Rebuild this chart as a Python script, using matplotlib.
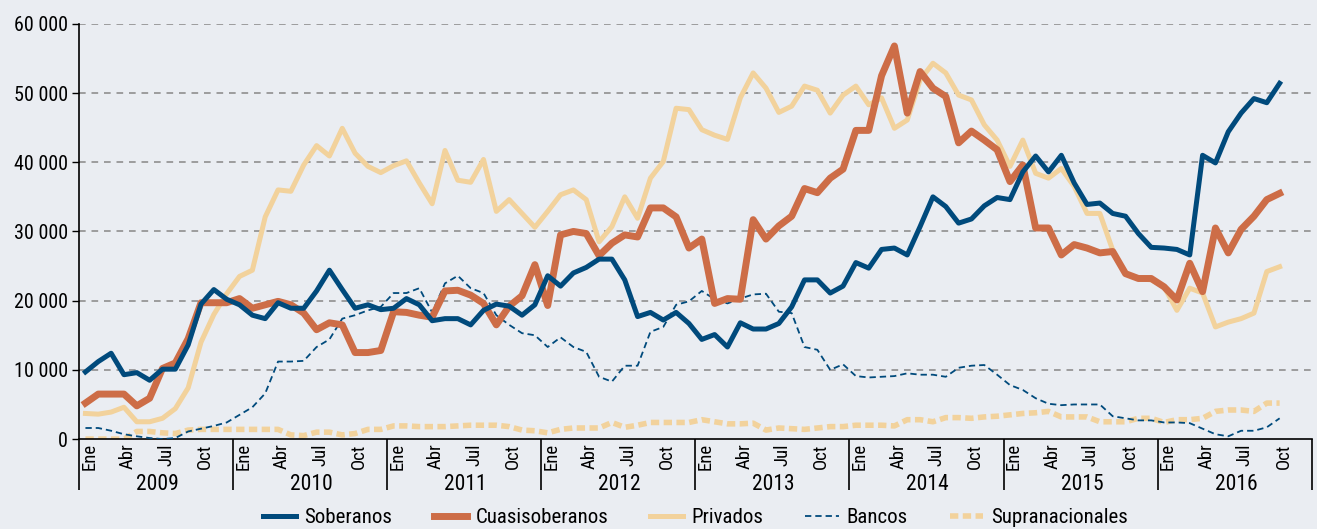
import numpy as np
import matplotlib
matplotlib.use("Agg")
import matplotlib.pyplot as plt
from matplotlib import font_manager
from matplotlib.ticker import FuncFormatter, FixedLocator

# pick a condensed font if one is available
names = {f.name for f in font_manager.fontManager.ttflist}
family = ["DejaVu Sans"]
for cand in ["Roboto Condensed", "Archivo Narrow", "Barlow Semi Condensed", "Liberation Sans Narrow"]:
    if cand in names:
        family = [cand, "DejaVu Sans"]
        break
plt.rcParams["font.family"] = family

years = ["2009", "2010", "2011", "2012", "2013", "2014", "2015", "2016"]
month_labels = ["Ene", "Abr", "Jul", "Oct"]

# monthly values, Ene 2009 - Oct 2016
soberanos = [
    9700, 11200, 12400, 9300, 9600, 8500, 10100, 10100, 13600, 19500, 21600, 20200,
    19400, 17900, 17400, 19700, 18900, 18900, 21400, 24400, 21600, 18900, 19400, 18700,
    18900, 20300, 19400, 17100, 17400, 17400, 16500, 18600, 19500, 19200, 17900, 19400,
    23600, 22100, 24000, 24800, 26000, 26000, 23000, 17700, 18300, 17200, 18300, 16700,
    14400, 15100, 13300, 16800, 15900, 15900, 16700, 19100, 23000, 23000, 21100, 22100,
    25500, 24700, 27400, 27600, 26600, 30700, 35000, 33600, 31200, 31800, 33700, 34900,
    34600, 38600, 40900, 38600, 41000, 37000, 33900, 34100, 32600, 32200, 29700, 27700,
    27600, 27400, 26600, 41000, 39900, 44400, 47100, 49200, 48600, 51400,
]
cuasisoberanos = [
    5200, 6500, 6500, 6500, 4800, 5900, 10200, 11000, 14500, 19700, 19700, 19700,
    20300, 18900, 19400, 19900, 19400, 18200, 15800, 16800, 16500, 12500, 12500, 12800,
    18400, 18300, 17900, 17600, 21400, 21500, 20800, 19600, 16500, 19200, 20700, 25200,
    19300, 29500, 30000, 29700, 26500, 28300, 29500, 29200, 33400, 33400, 32100, 27600,
    28900, 19600, 20300, 20200, 31700, 28900, 30800, 32200, 36200, 35600, 37700, 39000,
    44600, 44600, 52500, 56800, 47100, 53100, 50700, 49500, 42800, 44500, 43200, 41800,
    37200, 39600, 30500, 30500, 26600, 28100, 27600, 26900, 27100, 23900, 23200, 23200,
    22000, 20100, 25400, 21300, 30500, 26900, 30300, 32200, 34600, 35500,
]
privados = [
    3700, 3600, 3900, 4600, 2500, 2500, 3000, 4400, 7400, 14000, 18000, 21000,
    23500, 24400, 32100, 36000, 35800, 39600, 42400, 40900, 44900, 41300, 39400, 38500,
    39500, 40200, 37000, 34000, 41700, 37400, 37100, 40400, 32900, 34600, 32600, 30600,
    32900, 35300, 36000, 34600, 28500, 30700, 35000, 31900, 37700, 40100, 47800, 47600,
    44700, 43900, 43300, 49300, 52900, 50700, 47200, 48100, 51000, 50400, 47100, 49700,
    51000, 48300, 49300, 44900, 46100, 51900, 54300, 52900, 49700, 49000, 45400, 43200,
    39400, 43200, 38400, 37700, 39100, 36500, 32600, 32600, 27300, 23900, 23200, 23000,
    22000, 18600, 21800, 21100, 16200, 16900, 17400, 18200, 24200, 24900,
]
bancos = [
    1600, 1600, 1200, 700, 400, 150, 0, 150, 1100, 1500, 1900, 2400,
    3500, 4600, 6600, 11200, 11200, 11300, 13300, 14400, 17400, 17900, 18600, 19100,
    21100, 21100, 21800, 18300, 22500, 23600, 21800, 21100, 17900, 16500, 15300, 15000,
    13300, 14700, 13300, 12600, 9000, 8300, 10600, 10600, 15500, 16200, 19400, 19900,
    21400, 20200, 19600, 20300, 20900, 21000, 18400, 18200, 13300, 12900, 10000, 10800,
    9100, 8900, 9000, 9100, 9500, 9300, 9300, 9000, 10300, 10600, 10700, 9300,
    7800, 7100, 5900, 5100, 4900, 5000, 5000, 5000, 3300, 3000, 2700, 2700,
    2400, 2400, 2300, 1500, 700, 400, 1200, 1200, 1700, 3000,
]
supranacionales = [
    0, 0, 0, 0, 1100, 1100, 900, 800, 1300, 1400, 1400, 1400,
    1400, 1400, 1400, 1400, 600, 500, 1000, 1000, 600, 800, 1400, 1400,
    1900, 1900, 1800, 1800, 1800, 1900, 2000, 2000, 2000, 1800, 1300, 1200,
    900, 1400, 1600, 1600, 1600, 2400, 1700, 2000, 2400, 2400, 2400, 2400,
    2800, 2500, 2200, 2200, 2300, 1300, 1600, 1500, 1400, 1600, 1800, 1800,
    2000, 2000, 2000, 1900, 2800, 2800, 2500, 3100, 3100, 3000, 3200, 3300,
    3500, 3700, 3800, 4000, 3200, 3200, 3200, 2500, 2500, 2500, 3000, 3000,
    2400, 2800, 2800, 3000, 4000, 4200, 4200, 4000, 5200, 5200,
]

bg = "#eaedf2"
dark_blue = "#004a7c"
orange = "#cd6d47"
tan = "#f2d29c"

fig = plt.figure(figsize=(13.17, 5.29), dpi=100, facecolor=bg)
ax = fig.add_axes([0.06, 0.17, 0.936, 0.785], facecolor=bg)

x = np.arange(len(soberanos))
ax.plot(x, supranacionales, color=tan, lw=4.0, ls=(0, (1.5, 0.8)), label="Supranacionales", zorder=2)
ax.plot(x, bancos, color=dark_blue, lw=1.3, ls=(0, (3.5, 2.2)), label="Bancos", zorder=3)
ax.plot(x, privados, color=tan, lw=3.6, label="Privados", zorder=4)
ax.plot(x, cuasisoberanos, color=orange, lw=5.0, label="Cuasisoberanos", zorder=5)
ax.plot(x, soberanos, color=dark_blue, lw=3.6, label="Soberanos", zorder=6)

ax.set_xlim(-0.5, len(years) * 12 - 0.5)
ax.set_ylim(0, 60000)
ax.set_yticks(np.arange(0, 60001, 10000))
ax.yaxis.set_major_formatter(FuncFormatter(lambda v, p: f"{int(v):,}".replace(",", " ")))
ax.tick_params(axis="y", direction="out", length=5, width=1, labelsize=14.5, pad=3)
for v in range(10000, 60001, 10000):
    ax.axhline(v, color="#8f8f8f", lw=1.2, ls=(0, (4, 3.5)), zorder=1)

# month ticks and year separators
ax.xaxis.set_major_locator(FixedLocator([y * 12 + m + 0.3 for y in range(len(years)) for m in (0, 3, 6, 9)]))
ax.set_xticklabels(month_labels * len(years), rotation=90, fontsize=13.5)
ax.tick_params(axis="x", which="major", length=0, pad=3)
ax.xaxis.set_minor_locator(FixedLocator([y * 12 - 0.5 for y in range(len(years) + 1)]))
ax.tick_params(axis="x", which="minor", length=37, width=1.2, direction="out", color="black")
for i, yr in enumerate(years):
    ax.text(i * 12 + 5.6, -0.11, yr, transform=ax.get_xaxis_transform(),
            ha="center", va="center", fontsize=15.5)

for side in ["top", "right"]:
    ax.spines[side].set_visible(False)
ax.spines["left"].set_linewidth(1.2)
ax.spines["bottom"].set_linewidth(1.2)

handles, labels = ax.get_legend_handles_labels()
order = ["Soberanos", "Cuasisoberanos", "Privados", "Bancos", "Supranacionales"]
hmap = dict(zip(labels, handles))
fig.legend([hmap[k] for k in order], order, loc="center", ncol=5, frameon=False,
           fontsize=15, handlelength=1.6, columnspacing=2.0, handletextpad=0.4,
           bbox_to_anchor=(0.528, 0.022))

fig.savefig("out.png", dpi=100, facecolor=bg)
